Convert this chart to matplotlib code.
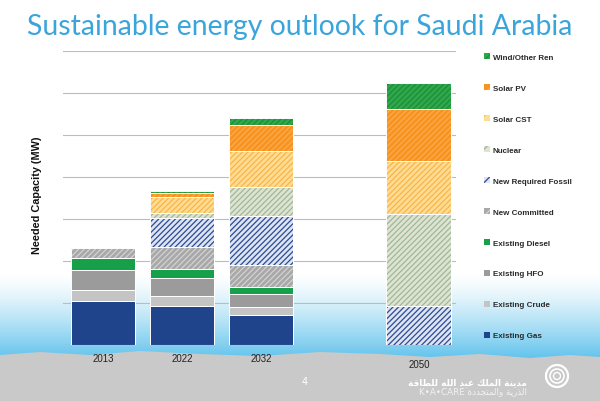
import matplotlib
matplotlib.use('Agg')
import matplotlib.pyplot as plt
import matplotlib.transforms as mtrans
from matplotlib.patches import Patch, Polygon, Circle
import numpy as np

# categories (2050 leaves a gap after 2032)
years = ['2013', '2022', '2032', '2050']
positions = [0, 1, 2, 4]

# needed capacity, in gridline steps (the axis carries no numbers)
existing_gas = [1.04, 0.92, 0.71, 0]
existing_crude = [0.27, 0.24, 0.20, 0]
existing_hfo = [0.48, 0.43, 0.30, 0]
existing_diesel = [0.27, 0.22, 0.18, 0]
new_committed = [0.25, 0.52, 0.52, 0]
new_required_fossil = [0, 0.69, 1.17, 0.94]
nuclear = [0, 0.13, 0.69, 2.17]
solar_cst = [0, 0.37, 0.86, 1.26]
solar_pv = [0, 0.09, 0.61, 1.25]
wind_other = [0, 0.06, 0.16, 0.63]

# (label, values, face colour, hatch colour or None)
series = [
    ('Existing Gas', existing_gas, '#1f448c', None),
    ('Existing Crude', existing_crude, '#c4c4c4', None),
    ('Existing HFO', existing_hfo, '#9b9b9b', None),
    ('Existing Diesel', existing_diesel, '#16a04a', None),
    ('New Committed', new_committed, '#a8a8a8', '#d2d2d2'),
    ('New Required Fossil', new_required_fossil, '#dde4f2', '#2c4b94'),
    ('Nuclear', nuclear, '#dfe4cf', '#9fb69f'),
    ('Solar CST', solar_cst, '#ffdc95', '#f9b545'),
    ('Solar PV', solar_pv, '#f7931e', '#fbab52'),
    ('Wind/Other Ren', wind_other, '#2fa84c', '#1d8c3a'),
]

plt.rcParams['hatch.linewidth'] = 0.9
HATCH = '//////'

W, H = 600, 402
fig = plt.figure(figsize=(6.0, 4.02), dpi=100)

# slide background: white, sky-blue fade, grey wavy band
bg = fig.add_axes([0, 0, 1, 1], zorder=0)
bg.set_xlim(0, W)
bg.set_ylim(H, 0)
bg.axis('off')
grad = np.linspace(0, 1, 200)[:, None]
top_c = np.array([1.0, 1.0, 1.0])
bot_c = np.array([0x5c, 0xc1, 0xec]) / 255
cols = top_c + (bot_c - top_c) * grad[..., None] ** 1.3
bg.imshow(np.repeat(cols, 2, axis=1), extent=[0, W, 362, 275], aspect='auto',
          interpolation='bilinear', zorder=0)
wave_x = np.array([0, 40, 90, 140, 200, 260, 320, 380, 430, 480, 530, 570, 600])
wave_y = np.array([356, 353, 356, 352, 355, 357, 353, 355, 358, 355, 359, 356, 358])
band = Polygon(np.vstack([np.column_stack([wave_x, wave_y]), [[W, H], [0, H]]]),
               closed=True, facecolor='#c9c9c9', edgecolor='none', zorder=1)
bg.add_patch(band)

# logo rings
for r, lw in [(11, 1.6), (7, 1.2), (3.5, 1.0)]:
    bg.add_patch(Circle((557, 377), r, facecolor='none', edgecolor='white',
                        linewidth=lw, zorder=2))

# title
fig.text(0.5, 1 - 35 / H, 'Sustainable energy outlook for Saudi Arabia',
         ha='center', va='baseline', fontsize=20.4, color='#3ba5db',
         family='Lato')

# chart
ax = fig.add_axes([63 / W, 1 - 346 / H, (456 - 63) / W, (346 - 52) / H], zorder=1)
ax.patch.set_alpha(0)
x = np.array(positions, dtype=float)
bottom = np.zeros(len(x))
width = 0.82
for label, vals, face, hc in series:
    v = np.array(vals, dtype=float)
    m = v > 0
    ax.bar(x[m], v[m], width, bottom=bottom[m], color=face, linewidth=0, zorder=2)
    if hc is not None:
        ax.bar(x[m], v[m], width, bottom=bottom[m], color='none', edgecolor=hc,
               hatch=HATCH, linewidth=0, zorder=3)
    ax.bar(x[m], v[m], width, bottom=bottom[m], fill=False, edgecolor='white',
           linewidth=0.7, zorder=4)
    bottom = bottom + v

ax.set_xlim(-0.506, 4.47)
ax.set_ylim(0, 7)
ax.set_yticks(np.arange(0, 8))
ax.yaxis.grid(True, color='#bcbcbc', linewidth=0.8)
ax.set_axisbelow(True)
ax.tick_params(axis='y', left=False, labelleft=False)
ax.tick_params(axis='x', length=0, pad=6, labelsize=7, labelcolor='#222222')
ax.set_xticks(positions)
ax.set_xticklabels(years, family='Liberation Sans')
for s in ['top', 'right', 'left']:
    ax.spines[s].set_visible(False)
ax.spines['bottom'].set_color('#bcbcbc')
ax.spines['bottom'].set_linewidth(0.8)
# the 2050 label sits a little lower on the slide
lab = ax.get_xticklabels()[3]
lab.set_transform(lab.get_transform() + mtrans.ScaledTranslation(0, -6 / 100, fig.dpi_scale_trans))

fig.text(37 / W, 1 - 195 / H, 'Needed Capacity (MW)', rotation=90, ha='center',
         va='center', fontsize=7.8, fontweight='bold', family='Liberation Sans',
         color='#111111')

# legend, top entry first
handles = []
for label, vals, face, hc in series[::-1]:
    if hc is None:
        handles.append(Patch(facecolor=face, edgecolor=face, linewidth=0, label=label))
    else:
        handles.append(Patch(facecolor=face, edgecolor=hc, hatch='///', linewidth=0,
                             label=label))
leg = fig.legend(handles=handles, loc='upper left',
                 bbox_to_anchor=(484 / W, 1 - 54 / H), bbox_transform=fig.transFigure,
                 frameon=False, borderaxespad=0, borderpad=0,
                 handlelength=0.75, handleheight=0.75, handletextpad=0.35,
                 labelspacing=2.88, prop={'family': 'Liberation Sans',
                                          'weight': 'bold', 'size': 5.8})
for t in leg.get_texts():
    t.set_color('#2a2a2a')

# footer: page number and K.A.CARE name
fig.text(305 / W, 1 - 382 / H, '4', ha='center', va='center', fontsize=7, color='white')
ar1 = ('\ufe94\ufed7\ufe8e\ufec4\ufee0\ufedf \ufeea\ufee0\ufedf\ufe8d '
       '\ufeaa\ufe92\ufecb \ufeda\ufee0\ufee4\ufedf\ufe8d \ufe94\ufee8\ufef3\ufeaa\ufee3')
ar2 = ('K\u2022A\u2022CARE \ufe93\ufea9\ufeaa\ufea0\ufe98\ufee4\ufedf\ufe8d\ufeed '
       '\ufe94\ufef3\ufead\ufeac\ufedf\ufe8d')
fig.text(527 / W, 1 - 383 / H, ar1, ha='right', va='center', fontsize=6.4,
         fontweight='bold', color='white', family='DejaVu Sans')
fig.text(527 / W, 1 - 392 / H, ar2, ha='right', va='center', fontsize=6.3,
         color='#f2f2f2', family='DejaVu Sans')

fig.savefig('out.png', dpi=100)
